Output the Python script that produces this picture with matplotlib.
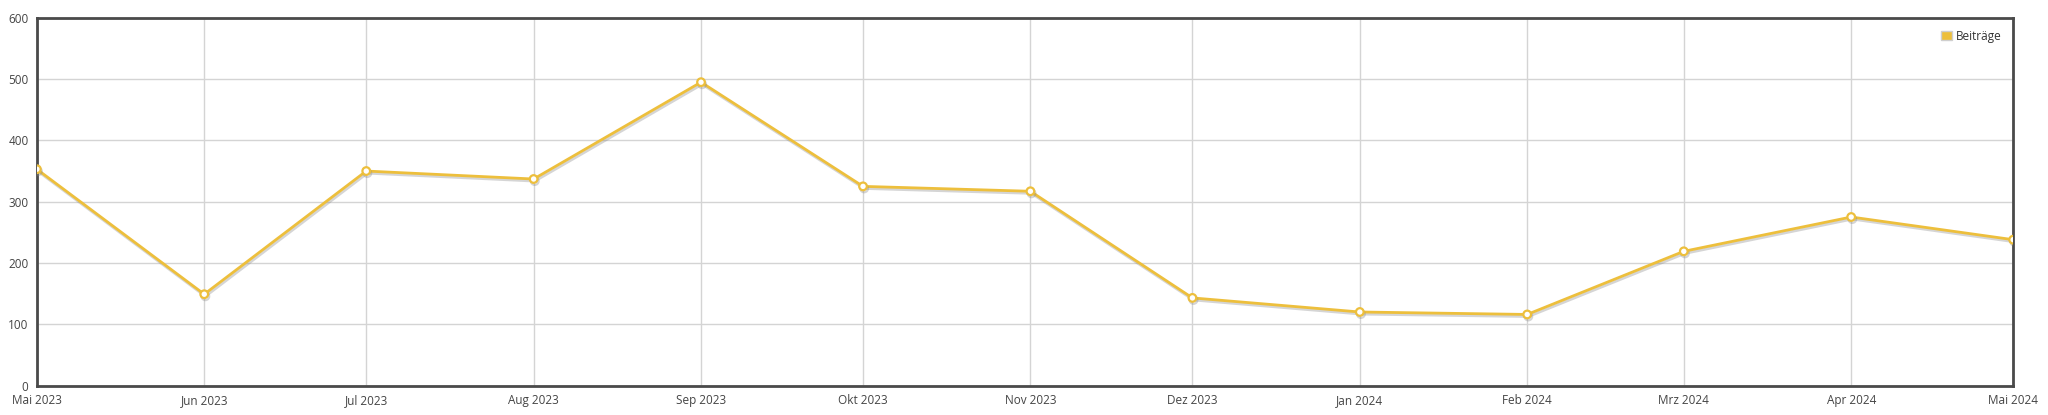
import datetime as dt
import matplotlib
matplotlib.use("Agg")
import matplotlib.pyplot as plt
import matplotlib.patheffects as pe
from matplotlib.patches import Patch

months = [dt.date(2023, m, 1) for m in range(5, 13)] + [dt.date(2024, m, 1) for m in range(1, 6)]
month_labels = ["Mai 2023", "Jun 2023", "Jul 2023", "Aug 2023", "Sep 2023", "Okt 2023",
                "Nov 2023", "Dez 2023", "Jan 2024", "Feb 2024", "Mrz 2024", "Apr 2024", "Mai 2024"]
beitraege = [353, 149, 350, 337, 495, 325, 317, 143, 120, 116, 219, 275, 238]

plt.rcParams['font.family'] = ['Open Sans', 'DejaVu Sans']

yellow = "#edbf3c"
fig = plt.figure(figsize=(20.48, 4.15), dpi=100)
ax = fig.add_axes([0.018, 0.071, 0.965, 0.886])

ax.plot(months, beitraege, color=yellow, lw=2, marker="o", ms=5.5,
        mfc="white", mec=yellow, mew=1.6, zorder=3,
        path_effects=[pe.SimpleLineShadow(offset=(0.8, -1.5), shadow_color="#888888", alpha=0.35),
                      pe.Normal()])

ax.set_xlim(months[0], months[-1])
ax.set_ylim(0, 600)
ax.set_xticks(months)
ax.set_xticklabels(month_labels)
ax.set_yticks(range(0, 601, 100))
ax.tick_params(length=0, labelsize=8.5, colors="#444444", pad=6)
ax.grid(True, color="#d4d4d4", lw=1)
ax.set_axisbelow(True)
for s in ax.spines.values():
    s.set_color("#4a4a4a")
    s.set_linewidth(2)

leg = ax.legend(handles=[Patch(facecolor=yellow, edgecolor="#cfcfcf", lw=1, label="Beiträge")],
                loc="upper right", frameon=False, fontsize=8.5, handlelength=0.9, handleheight=0.9,
                handletextpad=0.3, borderaxespad=0.6)
for t in leg.get_texts():
    t.set_color("#333333")

fig.savefig("out.png", dpi=100)
